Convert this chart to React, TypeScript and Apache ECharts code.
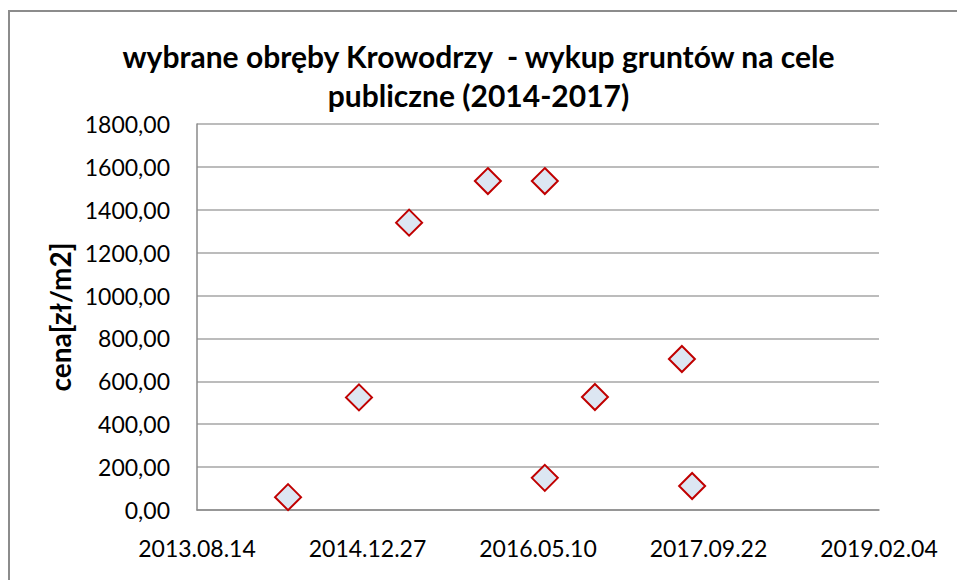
import React, { useEffect, useRef } from "react";
import * as echarts from "echarts";

const titleLines = ["wybrane obręby Krowodrzy  - wykup gruntów na cele", "publiczne (2014-2017)"];
const yAxisName = "cena[zł/m2]";
const dates = ["2014-05-08", "2014-12-02", "2015-04-28", "2015-12-15", "2016-05-30", "2016-05-30", "2016-10-24", "2017-07-06", "2017-08-05"];
const prices = [60, 525, 1340, 1534, 1534, 150, 527, 704, 112];

const EXCEL_EPOCH = Date.UTC(1899, 11, 30);
const DAY = 86400000;
const toSerial = (s: string) => {
  const [y, m, d] = s.split("-").map(Number);
  return Math.round((Date.UTC(y, m - 1, d) - EXCEL_EPOCH) / DAY);
};
const fmtSerial = (v: number) => {
  const dt = new Date(EXCEL_EPOCH + v * DAY);
  const p = (n: number) => String(n).padStart(2, "0");
  return `${dt.getUTCFullYear()}.${p(dt.getUTCMonth() + 1)}.${p(dt.getUTCDate())}`;
};

export default function App() {
  const ref = useRef<HTMLDivElement>(null);
  useEffect(() => {
    document.body.style.margin = "0";
    const chart = echarts.init(ref.current!, undefined, { renderer: "svg" });
    const font = "Lato, 'Open Sans', sans-serif";
    chart.setOption({
      animation: false,
      backgroundColor: "#ffffff",
      textStyle: { fontFamily: font },
      title: {
        text: titleLines.join("\n"),
        left: "center",
        top: 31,
        textStyle: { fontFamily: font, fontSize: 30, fontWeight: "bold", color: "#000", lineHeight: 39 },
      },
      graphic: [
        {
          type: "rect",
          shape: { x: 9, y: 11, width: 960, height: 600 },
          style: { fill: "none", stroke: "#8c8c8c", lineWidth: 2 },
          silent: true,
        },
      ],
      grid: { left: 197, right: 78, top: 124, bottom: 70, containLabel: false },
      xAxis: {
        type: "value",
        min: 41500,
        max: 43500,
        interval: 500,
        axisLine: { show: true, lineStyle: { color: "#8a8a8a", width: 1.5 } },
        axisTick: { show: false },
        splitLine: { show: false },
        axisLabel: {
          formatter: (v: number) => fmtSerial(v),
          fontSize: 23,
          color: "#000",
          margin: 26,
          fontFamily: font,
        },
      },
      yAxis: {
        type: "value",
        min: 0,
        max: 1800,
        interval: 200,
        name: yAxisName,
        nameLocation: "middle",
        nameGap: 117,
        nameRotate: 90,
        nameTextStyle: { fontSize: 28, fontWeight: "bold", color: "#000", fontFamily: font },
        axisLine: { show: true, lineStyle: { color: "#8a8a8a", width: 1.5 } },
        axisTick: { show: false },
        splitLine: { show: true, lineStyle: { color: "#a6a6a6", width: 1.5 } },
        axisLabel: {
          formatter: (v: number) => v.toFixed(2).replace(".", ","),
          fontSize: 23,
          color: "#000",
          margin: 27,
          fontFamily: font,
        },
      },
      series: [
        {
          type: "scatter",
          symbol: "diamond",
          symbolSize: 26,
          itemStyle: { color: "#dce6f2", borderColor: "#c00000", borderWidth: 2, opacity: 1 },
          data: dates.map((d, i) => [toSerial(d), prices[i]]),
        },
      ],
    });
    return () => chart.dispose();
  }, []);
  return <div ref={ref} style={{ width: 957, height: 580 }} />;
}
